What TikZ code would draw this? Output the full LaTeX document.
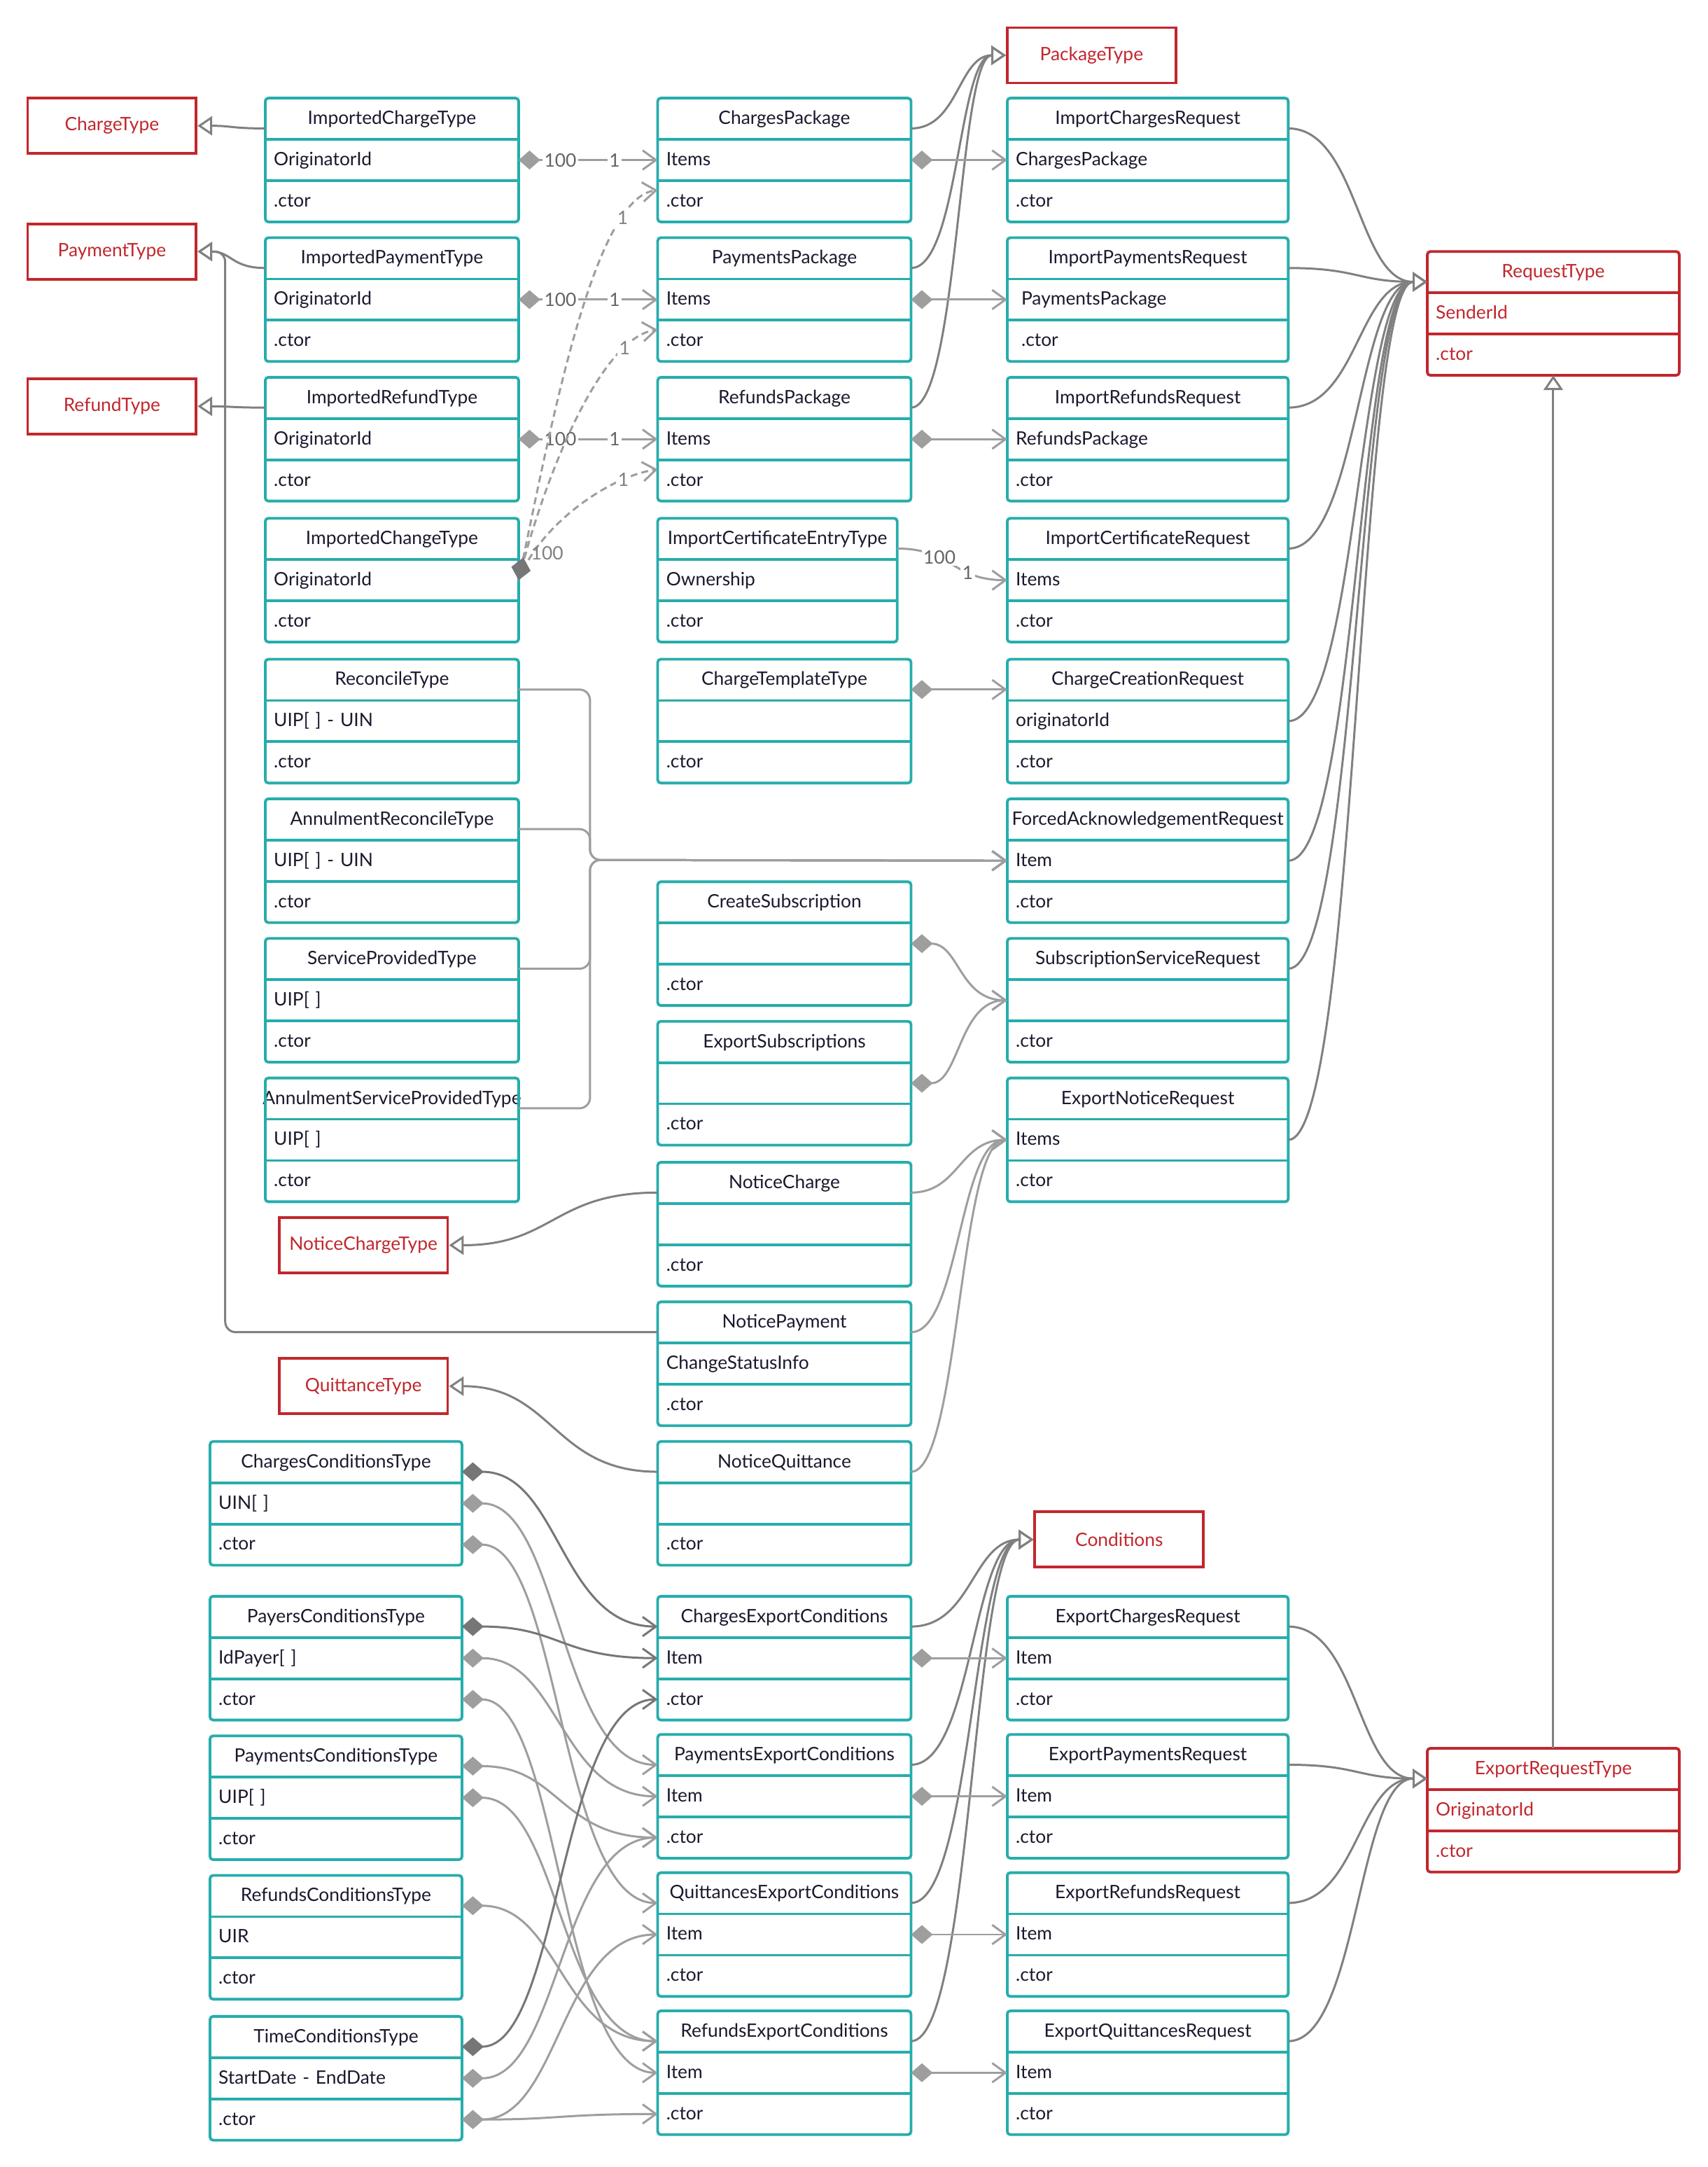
\documentclass[tikz,border=0pt]{standalone}
\usepackage{fontspec}
\setmainfont{Lato}
\usetikzlibrary{arrows.meta,calc}

\definecolor{clsteal}{RGB}{38,173,172}
\definecolor{clsred}{RGB}{193,39,45}
\definecolor{clsink}{RGB}{26,26,46}
\definecolor{linemid}{RGB}{128,128,128}
\definecolor{linelight}{RGB}{158,158,158}
\definecolor{linedark}{RGB}{118,118,118}
\definecolor{multgray}{RGB}{100,100,100}

\newdimen\un
\un=0.03948cm

\tikzset{
  clscell/.style={rectangle, anchor=north west, inner xsep=6\un, inner ysep=0pt, minimum height=29.5\un, text height=12pt, text depth=3pt},
  clsframe/.style={line width=2.2pt, rounded corners=2.5pt},
  typebox/.style={draw=clsred, text=clsred, line width=2.2pt, minimum width=122\un, minimum height=40\un, inner sep=0pt},
  conn/.style={line width=1.7pt, draw=linelight},
  assoc/.style={conn, arrows={-Straight Barb[length=0.38cm, width=0.55cm]}},
  compose/.style={conn, arrows={Diamond[length=0.62cm, width=0.54cm]-Straight Barb[length=0.38cm, width=0.55cm]}},
  composedark/.style={compose, draw=linedark},
  inherit/.style={conn, draw=linemid, arrows={-Triangle[fill=white, length=0.42cm, width=0.55cm]}},
  dashassoc/.style={assoc, dash pattern=on 0.2cm off 0.12cm},
  dashcompose/.style={conn, dash pattern=on 0.2cm off 0.12cm, arrows={Diamond[color=linedark, length=0.66cm, width=0.56cm]-Straight Barb[length=0.38cm, width=0.55cm]}},
  mult/.style={fill=white, text=multgray, inner sep=1.5pt},
  hbez/.style={to path={let \p1=(\tikztostart), \p2=(\tikztotarget) in .. controls ({(\x1+\x2)/2},\y1) and ({(\x1+\x2)/2},\y2) .. (\tikztotarget) \tikztonodes}},
}

\newcommand{\umlclass}[9]{%
  \pgfmathsetlengthmacro{\celltw}{(#4-12)*\un}%
  \node[clscell, text width=\celltw, align=center, text=#9] (#1-h) at (#2,#3) {\makebox[0pt]{#5}};
  \node[clscell, text width=\celltw, align=left, text=#9] (#1-a) at (#1-h.south west) {#6};
  \node[clscell, text width=\celltw, align=left, text=#9] (#1-b) at (#1-a.south west) {#7};
  \coordinate (#1-hw) at ([yshift=-7\un]#1-h.west);
  \coordinate (#1-he) at ([yshift=-7\un]#1-h.east);
  \draw[clsframe, draw=#8] (#1-h.north west) rectangle (#1-b.south east);
  \draw[clsframe, draw=#8] (#1-h.south west) -- (#1-h.south east) (#1-a.south west) -- (#1-a.south east);
}

\begin{document}
\begin{tikzpicture}[x=\un, y=-\un, font=\fontsize{15pt}{18pt}\selectfont]
\fill[white] (0,0) rectangle (1236,1568);

\node[typebox] (chargetype) at (81,91) {ChargeType};
\node[typebox] (paymenttype) at (81,182) {PaymentType};
\node[typebox] (refundtype) at (81,294) {RefundType};
\node[typebox] (packagetype) at (790,40) {PackageType};
\node[typebox] (noticechargetype) at (263,901) {NoticeChargeType};
\node[typebox] (quittancetype) at (263,1003) {QuittanceType};
\node[typebox] (conditions) at (810,1114) {Conditions};

\umlclass{ichg}{192}{71}{183}{ImportedChargeType}{OriginatorId}{.ctor}{clsteal}{clsink}
\umlclass{ipay}{192}{172}{183}{ImportedPaymentType}{OriginatorId}{.ctor}{clsteal}{clsink}
\umlclass{iref}{192}{273}{183}{ImportedRefundType}{OriginatorId}{.ctor}{clsteal}{clsink}
\umlclass{ichn}{192}{375}{183}{ImportedChangeType}{OriginatorId}{.ctor}{clsteal}{clsink}
\umlclass{recon}{192}{477}{183}{ReconcileType}{UIP[ ] - UIN}{.ctor}{clsteal}{clsink}
\umlclass{arecon}{192}{578}{183}{AnnulmentReconcileType}{UIP[ ] - UIN}{.ctor}{clsteal}{clsink}
\umlclass{svc}{192}{679}{183}{ServiceProvidedType}{UIP[ ]}{.ctor}{clsteal}{clsink}
\umlclass{asvc}{192}{780}{183}{AnnulmentServiceProvidedType}{UIP[ ]}{.ctor}{clsteal}{clsink}

\umlclass{chpkg}{476}{71}{183}{ChargesPackage}{Items}{.ctor}{clsteal}{clsink}
\umlclass{paypkg}{476}{172}{183}{PaymentsPackage}{Items}{.ctor}{clsteal}{clsink}
\umlclass{refpkg}{476}{273}{183}{RefundsPackage}{Items}{.ctor}{clsteal}{clsink}
\umlclass{certentry}{476}{375}{173}{ImportCertificateEntryType}{Ownership}{.ctor}{clsteal}{clsink}
\umlclass{tmpl}{476}{477}{183}{ChargeTemplateType}{}{.ctor}{clsteal}{clsink}
\umlclass{csub}{476}{638}{183}{CreateSubscription}{}{.ctor}{clsteal}{clsink}
\umlclass{esub}{476}{739}{183}{ExportSubscriptions}{}{.ctor}{clsteal}{clsink}
\umlclass{nchg}{476}{841}{183}{NoticeCharge}{}{.ctor}{clsteal}{clsink}
\umlclass{npay}{476}{942}{183}{NoticePayment}{ChangeStatusInfo}{.ctor}{clsteal}{clsink}
\umlclass{nqt}{476}{1043}{183}{NoticeQuittance}{}{.ctor}{clsteal}{clsink}
\umlclass{chexp}{476}{1155}{183}{ChargesExportConditions}{Item}{.ctor}{clsteal}{clsink}
\umlclass{payexp}{476}{1255}{183}{PaymentsExportConditions}{Item}{.ctor}{clsteal}{clsink}
\umlclass{qtexp}{476}{1355}{183}{QuittancesExportConditions}{Item}{.ctor}{clsteal}{clsink}
\umlclass{refexp}{476}{1455}{183}{RefundsExportConditions}{Item}{.ctor}{clsteal}{clsink}

\umlclass{ichreq}{729}{71}{203}{ImportChargesRequest}{ChargesPackage}{.ctor}{clsteal}{clsink}
\umlclass{ipayreq}{729}{172}{203}{ImportPaymentsRequest}{\hspace*{4\un}PaymentsPackage}{\hspace*{4\un}.ctor}{clsteal}{clsink}
\umlclass{irefreq}{729}{273}{203}{ImportRefundsRequest}{RefundsPackage}{.ctor}{clsteal}{clsink}
\umlclass{icertreq}{729}{375}{203}{ImportCertificateRequest}{Items}{.ctor}{clsteal}{clsink}
\umlclass{creq}{729}{477}{203}{ChargeCreationRequest}{originatorId}{.ctor}{clsteal}{clsink}
\umlclass{fack}{729}{578}{203}{ForcedAcknowledgementRequest}{Item}{.ctor}{clsteal}{clsink}
\umlclass{subreq}{729}{679}{203}{SubscriptionServiceRequest}{}{.ctor}{clsteal}{clsink}
\umlclass{enreq}{729}{780}{203}{ExportNoticeRequest}{Items}{.ctor}{clsteal}{clsink}
\umlclass{echreq}{729}{1155}{203}{ExportChargesRequest}{Item}{.ctor}{clsteal}{clsink}
\umlclass{epayreq}{729}{1255}{203}{ExportPaymentsRequest}{Item}{.ctor}{clsteal}{clsink}
\umlclass{erefreq}{729}{1355}{203}{ExportRefundsRequest}{Item}{.ctor}{clsteal}{clsink}
\umlclass{eqtreq}{729}{1455}{203}{ExportQuittancesRequest}{Item}{.ctor}{clsteal}{clsink}

\umlclass{chcond}{152}{1043}{182}{ChargesConditionsType}{UIN[ ]}{.ctor}{clsteal}{clsink}
\umlclass{paycond}{152}{1155}{182}{PayersConditionsType}{IdPayer[ ]}{.ctor}{clsteal}{clsink}
\umlclass{pmtcond}{152}{1256}{182}{PaymentsConditionsType}{UIP[ ]}{.ctor}{clsteal}{clsink}
\umlclass{refcond}{152}{1357}{182}{RefundsConditionsType}{UIR}{.ctor}{clsteal}{clsink}
\umlclass{timecond}{152}{1459}{182}{TimeConditionsType}{StartDate - EndDate}{.ctor}{clsteal}{clsink}

\umlclass{reqtype}{1033}{182}{182}{RequestType}{SenderId}{.ctor}{clsred}{clsred}
\umlclass{exptype}{1033}{1265}{182}{ExportRequestType}{OriginatorId}{.ctor}{clsred}{clsred}

\draw[inherit] (ichg-hw) to[hbez] (chargetype.east);
\draw[inherit] (ipay-hw) to[hbez] (paymenttype.east);
\draw[inherit] (iref-hw) to[hbez] (refundtype.east);
\coordinate (paybend) at (163,182);
\draw[inherit, rounded corners=0.3cm] (npay-hw) -| (paybend) -- (paymenttype.east);
\draw[inherit] (nchg-hw) to[hbez] (noticechargetype.east);
\draw[inherit] (nqt-hw) to[hbez] (quittancetype.east);

\draw[inherit] (chpkg-he) to[hbez] (packagetype.west);
\draw[inherit] (paypkg-he) to[hbez] (packagetype.west);
\draw[inherit] (refpkg-he) to[hbez] (packagetype.west);

\draw[inherit] (ichreq-he) to[hbez] (reqtype-hw);
\draw[inherit] (ipayreq-he) to[hbez] (reqtype-hw);
\draw[inherit] (irefreq-he) to[hbez] (reqtype-hw);
\draw[inherit] (icertreq-he) to[hbez] (reqtype-hw);
\draw[inherit] (creq-a.east) to[hbez] (reqtype-hw);
\draw[inherit] (fack-a.east) to[hbez] (reqtype-hw);
\draw[inherit] (subreq-he) to[hbez] (reqtype-hw);
\draw[inherit] (enreq-a.east) to[hbez] (reqtype-hw);
\draw[inherit] (exptype-h.north) -- (reqtype-b.south);

\draw[inherit] (echreq-he) to[hbez] (exptype-hw);
\draw[inherit] (epayreq-he) to[hbez] (exptype-hw);
\draw[inherit] (erefreq-he) to[hbez] (exptype-hw);
\draw[inherit] (eqtreq-he) to[hbez] (exptype-hw);

\draw[inherit] (chexp-he) to[hbez] (conditions.west);
\draw[inherit] (payexp-he) to[hbez] (conditions.west);
\draw[inherit] (qtexp-he) to[hbez] (conditions.west);
\draw[inherit] (refexp-he) to[hbez] (conditions.west);

\draw[compose] (ichg-a.east) -- node[mult, pos=0.3] (m100a) {100} node[mult, pos=0.69] (m1a) {1} (chpkg-a.west);
\draw[compose] (ipay-a.east) -- node[mult, pos=0.3] (m100b) {100} node[mult, pos=0.69] (m1b) {1} (paypkg-a.west);
\draw[compose] (iref-a.east) -- node[mult, pos=0.3] (m100c) {100} node[mult, pos=0.69] (m1c) {1} (refpkg-a.west);

\draw[dashassoc] (ichn-a.east) .. controls +(15,-40) and +(-35,5) .. (refpkg-b.175) node[mult, pos=0.78, text=linemid] (m1f) {1};
\draw[dashassoc] (ichn-a.east) .. controls +(20,-80) and +(-40,5) .. (paypkg-b.175) node[mult, pos=0.8, text=linemid] (m1e) {1};
\draw[dashcompose] (ichn-a.east) .. controls +(25,-120) and +(-45,5) .. (chpkg-b.175) node[mult, pos=0.8, text=linemid] (m1d) {1};
\node[mult, text=linemid, fill=none] (m100d) at (396,400) {100};

\draw[compose] (chpkg-a.east) -- (ichreq-a.west);
\draw[compose] (paypkg-a.east) -- (ipayreq-a.west);
\draw[compose] (refpkg-a.east) -- (irefreq-a.west);
\draw[assoc] (certentry-he) to[hbez] node[mult, pos=0.35] (m100e) {100} node[mult, pos=0.68] (m1g) {1} (icertreq-a.west);
\draw[compose] (tmpl-he) -- (creq-hw);

\coordinate (recbus) at (427,622.25);
\draw[assoc, rounded corners=0.3cm] (recon-he) -| (recbus) -- (fack-a.west);
\draw[assoc, rounded corners=0.3cm] (arecon-he) -| (recbus) -- (fack-a.west);
\draw[assoc, rounded corners=0.3cm] (svc-he) -| (recbus) -- (fack-a.west);
\draw[assoc, rounded corners=0.3cm] (asvc-he) -| (recbus) -- (fack-a.west);

\draw[compose] (csub-a.east) to[hbez] (subreq-a.west);
\draw[compose] (esub-a.east) to[hbez] (subreq-a.west);

\draw[assoc] (nchg-he) to[hbez] (enreq-a.west);
\draw[assoc] (npay-he) to[hbez] (enreq-a.west);
\draw[assoc] (nqt-he) to[hbez] (enreq-a.west);

\draw[compose] (chexp-a.east) -- (echreq-a.west);
\draw[compose] (payexp-a.east) -- (epayreq-a.west);
\draw[compose] (qtexp-a.east) -- (erefreq-a.west);
\draw[compose] (refexp-a.east) -- (eqtreq-a.west);

\draw[composedark] (chcond-he) to[hbez] (chexp-hw);
\draw[compose] (chcond-a.east) to[hbez] (payexp-hw);
\draw[compose] (chcond-b.east) to[hbez] (qtexp-hw);
\draw[composedark] (paycond-he) to[hbez] (chexp-a.west);
\draw[compose] (paycond-a.east) to[hbez] (payexp-a.west);
\draw[compose] (paycond-b.east) to[hbez] (refexp-a.west);
\draw[compose] (pmtcond-he) to[hbez] (payexp-b.west);
\draw[compose] (pmtcond-a.east) to[hbez] (refexp-hw);
\draw[compose] (refcond-he) to[hbez] (refexp-hw);
\draw[composedark] (timecond-he) to[hbez] (chexp-b.west);
\draw[compose] (timecond-a.east) to[hbez] (payexp-b.west);
\draw[compose] (timecond-b.east) to[hbez] (qtexp-a.west);
\draw[compose] (timecond-b.east) to[hbez] (refexp-b.west);
\end{tikzpicture}
\end{document}
